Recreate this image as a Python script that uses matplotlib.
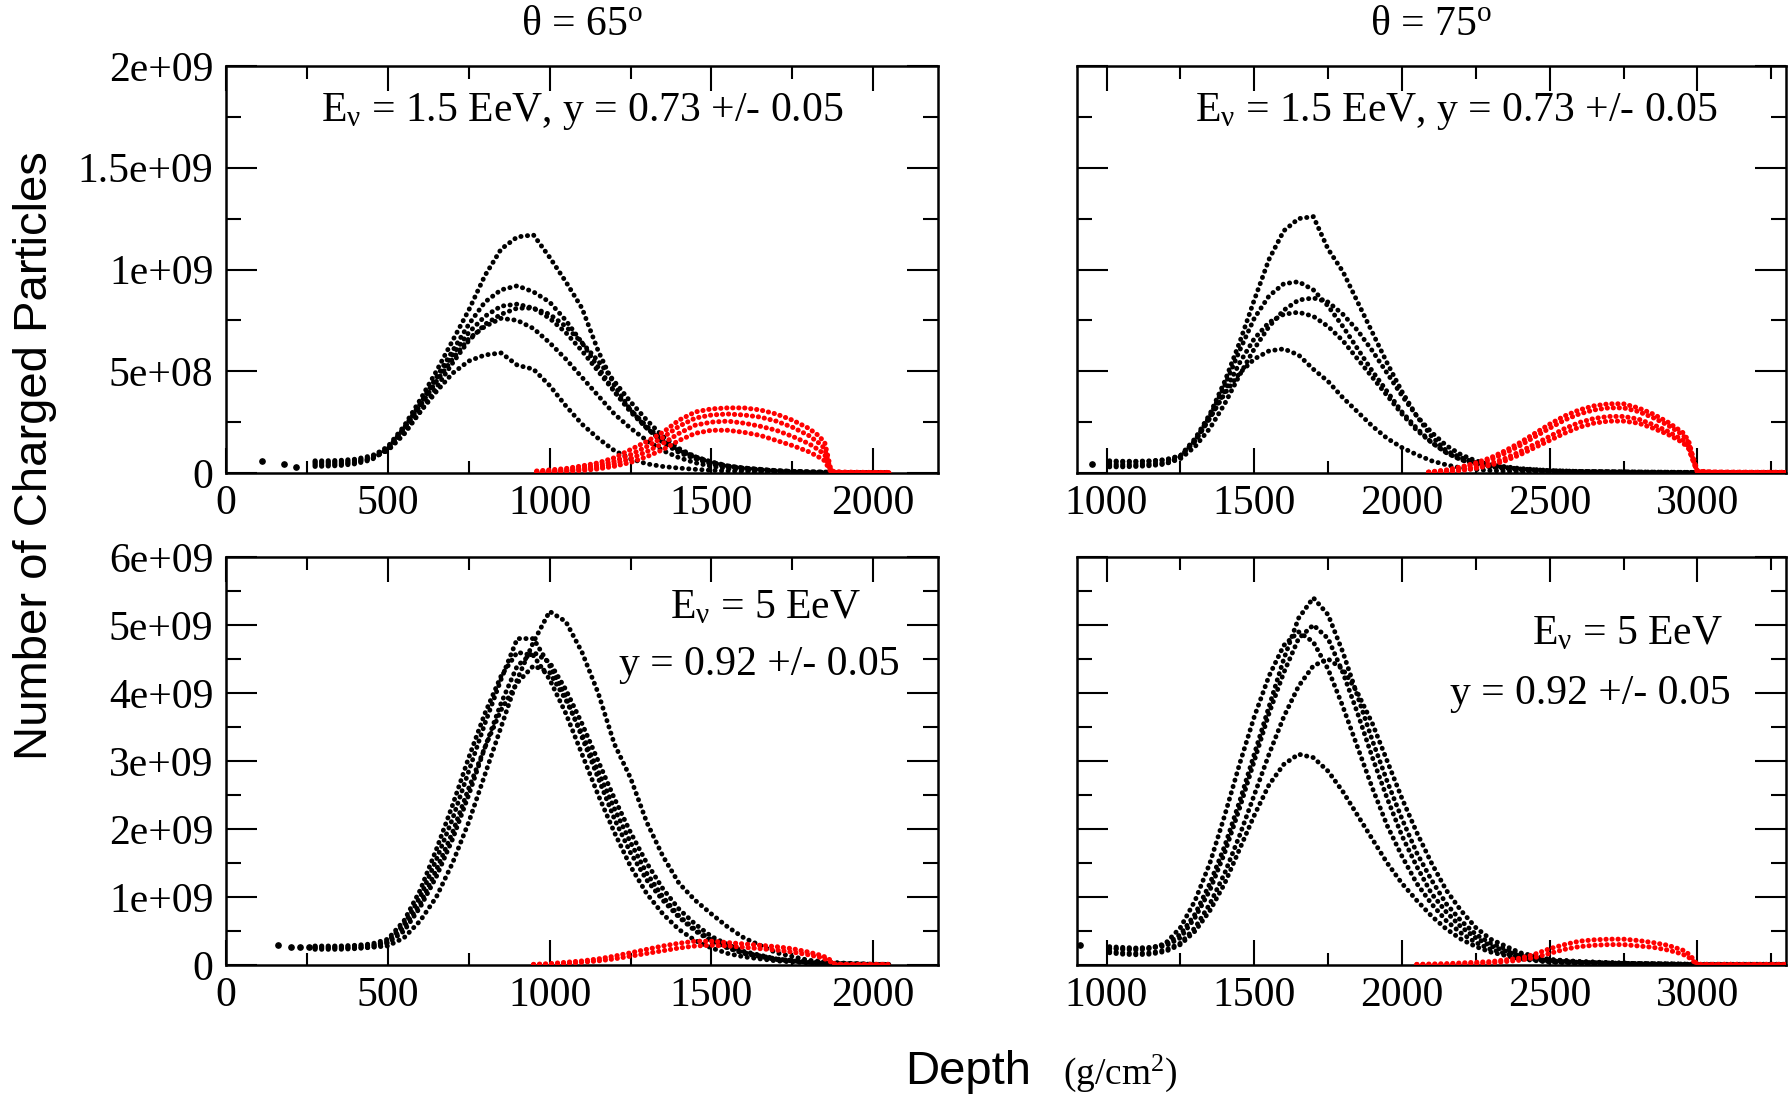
import numpy as np
import matplotlib.pyplot as plt
from matplotlib.ticker import FixedLocator, MultipleLocator

plt.rcParams['font.family'] = ['Liberation Serif', 'DejaVu Serif']
plt.rcParams['mathtext.fontset'] = 'custom'
plt.rcParams['mathtext.rm'] = 'Liberation Serif'
plt.rcParams['mathtext.it'] = 'Liberation Serif'
plt.rcParams['mathtext.default'] = 'rm'

# ---------------- data ----------------
# top row: number of particles in units of 1e8, bottom row in units of 1e9

# theta = 65, E = 1.5 EeV
tl_depth = [275, 300, 350, 400, 450, 500, 550, 600, 650, 700, 750, 800, 850, 900, 950,
            1000, 1050, 1100, 1150, 1200, 1250, 1300, 1350, 1400, 1450, 1500, 1550, 1600,
            1700, 1800, 1900, 2000, 2050]
tl_black = [
    [0.55, 0.55, 0.57, 0.63, 0.8, 1.3, 2.3, 3.6, 5.0, 6.5, 8.0, 9.7, 11.0, 11.6, 11.7, 10.6,
     9.4, 8.1, 6.0, 4.3, 3.1, 2.2, 1.55, 1.1, 0.8, 0.55, 0.35, 0.25, 0.12, 0.06, 0.03, 0.02, 0.01],
    [0.32, 0.33, 0.36, 0.45, 0.65, 1.2, 2.2, 3.4, 4.7, 6.0, 7.3, 8.4, 9.0, 9.2, 8.9, 8.4,
     7.5, 6.4, 5.2, 4.0, 3.0, 2.2, 1.5, 1.0, 0.7, 0.45, 0.3, 0.2, 0.1, 0.05, 0.03, 0.02, 0.01],
    [0.44, 0.44, 0.46, 0.53, 0.72, 1.15, 2.1, 3.3, 4.6, 5.8, 6.9, 7.7, 8.2, 8.3, 8.1, 7.6,
     6.9, 6.0, 5.0, 4.0, 3.1, 2.3, 1.6, 1.1, 0.75, 0.5, 0.33, 0.22, 0.1, 0.05, 0.03, 0.02, 0.01],
    [0.6, 0.6, 0.62, 0.68, 0.85, 1.2, 2.2, 3.3, 4.5, 5.6, 6.6, 7.2, 7.6, 7.5, 7.1, 6.4,
     5.6, 4.7, 3.8, 2.9, 2.2, 1.6, 1.1, 0.75, 0.5, 0.33, 0.22, 0.15, 0.07, 0.04, 0.02, 0.01, 0.01],
    [0.38, 0.38, 0.41, 0.5, 0.7, 1.15, 2.0, 3.0, 4.0, 4.9, 5.5, 5.8, 5.9, 5.3, 5.1, 4.3,
     3.3, 2.4, 1.7, 1.1, 0.7, 0.45, 0.32, 0.24, 0.18, 0.13, 0.1, 0.08, 0.05, 0.03, 0.02, 0.01, 0.01],
    [0.5, 0.5, 0.52, 0.58, 0.75, 1.1, 1.9, 3.0, 4.2, 5.4, 6.5, 7.3, 7.8, 8.1, 8.1, 7.8,
     7.2, 6.4, 5.5, 4.5, 3.5, 2.6, 1.8, 1.2, 0.8, 0.52, 0.35, 0.24, 0.11, 0.05, 0.03, 0.02, 0.01],
]
tl_early_depth = [110, 180, 215]
tl_early_n = [0.6, 0.45, 0.3]
tl_red_depth = [960, 1000, 1050, 1100, 1150, 1200, 1250, 1300, 1350, 1400, 1450, 1500, 1550,
                1600, 1650, 1700, 1750, 1800, 1830, 1850, 1860, 1870, 1900, 1950, 2000, 2050]
tl_red = [
    [0.1, 0.15, 0.22, 0.35, 0.5, 0.75, 1.15, 1.55, 2.0, 2.6, 3.0, 3.15, 3.2, 3.2, 3.1, 2.9,
     2.6, 2.2, 1.85, 1.5, 0.8, 0.1, 0.05, 0.04, 0.03, 0.03],
    [0.06, 0.1, 0.15, 0.25, 0.38, 0.58, 0.9, 1.3, 1.75, 2.3, 2.7, 2.85, 2.9, 2.85, 2.75, 2.55,
     2.25, 1.85, 1.5, 1.2, 0.6, 0.06, 0.03, 0.03, 0.02, 0.02],
    [0.04, 0.07, 0.11, 0.18, 0.28, 0.45, 0.7, 1.05, 1.45, 1.95, 2.35, 2.5, 2.55, 2.45, 2.3, 2.1,
     1.8, 1.45, 1.15, 0.9, 0.45, 0.04, 0.02, 0.02, 0.02, 0.02],
    [0.02, 0.04, 0.07, 0.12, 0.2, 0.33, 0.52, 0.8, 1.15, 1.6, 1.95, 2.1, 2.1, 2.0, 1.85, 1.6,
     1.35, 1.05, 0.8, 0.6, 0.3, 0.02, 0.01, 0.01, 0.01, 0.01],
]

# theta = 75, E = 1.5 EeV
tr_depth = [1010, 1050, 1100, 1150, 1200, 1250, 1300, 1350, 1400, 1450, 1500, 1550, 1600, 1650,
            1700, 1750, 1800, 1850, 1900, 1950, 2000, 2050, 2100, 2150, 2200, 2250, 2300,
            2400, 2500, 2600, 2800, 3000, 3200, 3300]
tr_black = [
    [0.6, 0.58, 0.58, 0.6, 0.66, 0.85, 1.7, 2.9, 4.5, 6.4, 8.5, 10.5, 11.9, 12.5, 12.6, 11.0,
     9.9, 8.4, 6.9, 5.4, 4.0, 2.8, 1.8, 1.1, 0.75, 0.5, 0.35, 0.2, 0.12, 0.08, 0.05, 0.03, 0.02, 0.02],
    [0.3, 0.3, 0.32, 0.36, 0.44, 0.8, 1.6, 2.8, 4.3, 6.0, 7.6, 8.7, 9.3, 9.4, 9.0, 8.2,
     7.2, 6.1, 5.0, 4.0, 3.0, 2.2, 1.5, 1.0, 0.65, 0.45, 0.3, 0.17, 0.1, 0.07, 0.04, 0.03, 0.02, 0.02],
    [0.44, 0.43, 0.44, 0.47, 0.53, 0.8, 1.55, 2.7, 4.0, 5.4, 6.6, 7.4, 7.8, 7.9, 7.7, 7.2,
     6.5, 5.6, 4.7, 3.8, 2.9, 2.1, 1.5, 1.0, 0.65, 0.43, 0.29, 0.16, 0.09, 0.06, 0.04, 0.03, 0.02, 0.02],
    [0.55, 0.54, 0.55, 0.58, 0.64, 0.85, 1.6, 2.7, 3.9, 4.9, 5.6, 6.0, 6.1, 5.8, 5.1, 4.5,
     3.7, 3.0, 2.3, 1.7, 1.25, 0.9, 0.6, 0.4, 0.25, 0.17, 0.12, 0.07, 0.05, 0.04, 0.03, 0.02, 0.02, 0.01],
    [0.36, 0.35, 0.36, 0.4, 0.46, 0.7, 1.3, 2.2, 3.4, 4.8, 6.1, 7.2, 8.0, 8.5, 8.6, 8.4,
     7.8, 7.0, 6.0, 4.9, 3.8, 2.8, 2.0, 1.35, 0.9, 0.6, 0.4, 0.22, 0.12, 0.08, 0.05, 0.03, 0.02, 0.02],
]
tr_early_depth = [950]
tr_early_n = [0.45]
tr_red_depth = [2090, 2150, 2200, 2250, 2300, 2350, 2400, 2450, 2500, 2550, 2600, 2650, 2700,
                2750, 2800, 2850, 2900, 2950, 2970, 2985, 3000, 3050, 3100, 3200, 3300]
tr_red = [
    [0.05, 0.15, 0.3, 0.5, 0.75, 1.1, 1.5, 1.95, 2.4, 2.8, 3.1, 3.3, 3.4, 3.4, 3.2, 2.9,
     2.5, 2.0, 1.6, 0.8, 0.1, 0.05, 0.05, 0.04, 0.04],
    [0.04, 0.12, 0.25, 0.42, 0.65, 0.98, 1.35, 1.78, 2.2, 2.6, 2.9, 3.1, 3.2, 3.2, 3.02, 2.72,
     2.35, 1.88, 1.5, 0.75, 0.08, 0.05, 0.04, 0.035, 0.035],
    [0.025, 0.08, 0.16, 0.28, 0.46, 0.72, 1.05, 1.42, 1.8, 2.18, 2.48, 2.68, 2.78, 2.78, 2.65,
     2.38, 2.05, 1.62, 1.3, 0.65, 0.05, 0.035, 0.025, 0.025, 0.025],
    [0.02, 0.05, 0.12, 0.22, 0.38, 0.6, 0.9, 1.25, 1.6, 1.95, 2.25, 2.45, 2.55, 2.55, 2.45, 2.2,
     1.9, 1.5, 1.2, 0.6, 0.04, 0.03, 0.02, 0.02, 0.02],
]

# theta = 65, E = 5 EeV
bl_depth = tl_depth
bl_black = [
    [0.25, 0.25, 0.25, 0.26, 0.28, 0.35, 0.6, 1.0, 1.55, 2.15, 2.85, 3.55, 4.2, 4.8, 4.8, 4.4,
     3.95, 3.35, 2.75, 2.15, 1.65, 1.25, 0.95, 0.7, 0.5, 0.35, 0.25, 0.17, 0.08, 0.04, 0.02, 0.01, 0.01],
    [0.27, 0.27, 0.27, 0.28, 0.29, 0.33, 0.55, 0.9, 1.4, 1.95, 2.6, 3.2, 3.75, 4.15, 4.4, 4.3,
     3.9, 3.4, 2.85, 2.3, 1.8, 1.35, 1.0, 0.72, 0.52, 0.37, 0.26, 0.18, 0.09, 0.04, 0.02, 0.01, 0.01],
    [0.23, 0.23, 0.23, 0.24, 0.26, 0.32, 0.5, 0.85, 1.3, 1.85, 2.5, 3.2, 3.85, 4.4, 4.6, 4.45,
     4.05, 3.55, 3.0, 2.45, 1.95, 1.5, 1.12, 0.82, 0.6, 0.42, 0.3, 0.2, 0.09, 0.04, 0.02, 0.01, 0.01],
    [0.25, 0.25, 0.25, 0.25, 0.26, 0.28, 0.4, 0.65, 1.0, 1.5, 2.1, 2.8, 3.5, 4.2, 4.75, 5.2,
     5.05, 4.6, 4.0, 3.25, 2.75, 2.1, 1.6, 1.2, 0.95, 0.75, 0.56, 0.4, 0.18, 0.07, 0.03, 0.01, 0.01],
    [0.28, 0.28, 0.28, 0.29, 0.31, 0.38, 0.65, 1.1, 1.7, 2.35, 3.05, 3.7, 4.25, 4.6, 4.55, 4.2,
     3.7, 3.1, 2.5, 1.95, 1.45, 1.05, 0.75, 0.52, 0.36, 0.25, 0.17, 0.12, 0.06, 0.03, 0.02, 0.01, 0.01],
]
bl_early_depth = [160, 200, 230, 255]
bl_early_n = [0.29, 0.27, 0.26, 0.27]
bl_red_depth = [950, 1000, 1050, 1100, 1150, 1200, 1250, 1300, 1350, 1400, 1450, 1500, 1550,
                1600, 1650, 1700, 1750, 1800, 1840, 1860, 1880, 1900, 1950, 2000, 2050]
bl_red = [
    [0.01, 0.02, 0.04, 0.06, 0.09, 0.13, 0.18, 0.23, 0.28, 0.32, 0.35, 0.35, 0.33, 0.31, 0.29,
     0.27, 0.24, 0.19, 0.14, 0.1, 0.02, 0.01, 0.01, 0.01, 0.01],
    [0.005, 0.01, 0.02, 0.04, 0.06, 0.09, 0.13, 0.17, 0.21, 0.25, 0.28, 0.29, 0.28, 0.26, 0.24,
     0.22, 0.19, 0.15, 0.11, 0.07, 0.01, 0.005, 0.005, 0.005, 0.005],
]

# theta = 75, E = 5 EeV
br_depth = tr_depth
br_black = [
    [0.27, 0.26, 0.25, 0.26, 0.3, 0.45, 0.75, 1.2, 1.75, 2.4, 3.1, 3.8, 4.5, 5.1, 5.4, 5.15,
     4.6, 3.95, 3.3, 2.7, 2.15, 1.65, 1.25, 0.9, 0.65, 0.45, 0.32, 0.16, 0.08, 0.05, 0.02, 0.01, 0.01, 0.01],
    [0.24, 0.23, 0.22, 0.24, 0.32, 0.55, 0.95, 1.5, 2.2, 2.95, 3.65, 4.25, 4.7, 4.9, 4.75, 4.35,
     3.8, 3.2, 2.6, 2.05, 1.6, 1.2, 0.9, 0.65, 0.47, 0.33, 0.23, 0.11, 0.05, 0.03, 0.02, 0.01, 0.01, 0.01],
    [0.2, 0.18, 0.17, 0.18, 0.22, 0.32, 0.55, 0.9, 1.35, 1.9, 2.5, 3.1, 3.65, 4.1, 4.4, 4.5,
     4.35, 4.0, 3.55, 3.0, 2.45, 1.95, 1.5, 1.1, 0.8, 0.55, 0.38, 0.18, 0.08, 0.05, 0.02, 0.01, 0.01, 0.01],
    [0.18, 0.16, 0.15, 0.16, 0.2, 0.3, 0.5, 0.8, 1.2, 1.7, 2.2, 2.65, 2.95, 3.1, 3.05, 2.85,
     2.55, 2.2, 1.85, 1.5, 1.2, 0.95, 0.72, 0.53, 0.38, 0.27, 0.19, 0.09, 0.04, 0.03, 0.02, 0.01, 0.01, 0.01],
    [0.25, 0.24, 0.24, 0.25, 0.28, 0.4, 0.7, 1.1, 1.65, 2.3, 3.0, 3.7, 4.3, 4.8, 5.0, 4.8,
     4.3, 3.7, 3.05, 2.45, 1.9, 1.45, 1.05, 0.78, 0.56, 0.4, 0.28, 0.13, 0.06, 0.04, 0.02, 0.01, 0.01, 0.01],
]
br_early_depth = [911]
br_early_n = [0.29]
br_red_depth = [2050, 2150, 2200, 2300, 2400, 2450, 2500, 2550, 2600, 2650, 2700, 2750, 2800,
                2850, 2900, 2950, 2975, 2990, 3000, 3050, 3100, 3200, 3300]
br_red = [
    [0.01, 0.02, 0.03, 0.05, 0.1, 0.16, 0.24, 0.3, 0.35, 0.37, 0.38, 0.38, 0.36, 0.33, 0.29,
     0.22, 0.15, 0.06, 0.01, 0.01, 0.01, 0.01, 0.01],
    [0.005, 0.01, 0.015, 0.03, 0.07, 0.11, 0.17, 0.23, 0.27, 0.29, 0.3, 0.3, 0.28, 0.26, 0.22,
     0.16, 0.1, 0.04, 0.005, 0.005, 0.005, 0.005, 0.005],
]

top_yticks = [0, 5e8, 1e9, 1.5e9, 2e9]
top_ylabels = ['0', '5e+08', '1e+09', '1.5e+09', '2e+09']
bot_yticks = [0, 1e9, 2e9, 3e9, 4e9, 5e9, 6e9]
bot_ylabels = ['0', '1e+09', '2e+09', '3e+09', '4e+09', '5e+09', '6e+09']
left_xticks = [0, 500, 1000, 1500, 2000]
right_xticks = [1000, 1500, 2000, 2500, 3000]

# ---------------- figure ----------------
fig = plt.figure(figsize=(17.89, 10.97), dpi=100)

W, H = 1789.0, 1097.0
def px_axes(x0, x1, ytop, ybot):
    return fig.add_axes([x0 / W, 1 - ybot / H, (x1 - x0) / W, (ybot - ytop) / H])

ax_tl = px_axes(226, 938, 66, 473)
ax_tr = px_axes(1077, 1786, 66, 473)
ax_bl = px_axes(226, 938, 557, 965)
ax_br = px_axes(1077, 1786, 557, 965)

TICK_FS = 30

def dotted(ax, x, y, scale, color, lw=3.5, gap=1.3):
    ax.plot(x, np.array(y) * scale, color=color, lw=lw,
            ls=(0, (0.05, gap)), dash_capstyle='round', zorder=3)

def style(ax, xlim, xticks, ylim, yticks, ylabels, ymin_step, show_ylabels):
    ax.set_xlim(*xlim)
    ax.set_ylim(*ylim)
    ax.xaxis.set_major_locator(FixedLocator(xticks))
    ax.xaxis.set_minor_locator(MultipleLocator(250))
    ax.set_xticklabels([str(t) for t in xticks])
    ax.yaxis.set_major_locator(FixedLocator(yticks))
    ax.yaxis.set_minor_locator(MultipleLocator(ymin_step))
    if show_ylabels:
        ax.set_yticklabels(ylabels)
    else:
        ax.set_yticklabels([])
    ax.tick_params(axis='both', which='both', direction='in', top=True, right=True,
                   width=1.5, labelsize=TICK_FS)
    ax.tick_params(axis='x', which='major', length=18, pad=8)
    ax.tick_params(axis='x', which='minor', length=9)
    ax.tick_params(axis='y', which='major', length=22, pad=9)
    ax.tick_params(axis='y', which='minor', length=11)
    for s in ax.spines.values():
        s.set_linewidth(1.8)

panels = [
    (ax_tl, tl_depth, tl_black, tl_red_depth, tl_red, tl_early_depth, tl_early_n, 1e8),
    (ax_tr, tr_depth, tr_black, tr_red_depth, tr_red, tr_early_depth, tr_early_n, 1e8),
    (ax_bl, bl_depth, bl_black, bl_red_depth, bl_red, bl_early_depth, bl_early_n, 1e9),
    (ax_br, br_depth, br_black, br_red_depth, br_red, br_early_depth, br_early_n, 1e9),
]
for ax, d, blacks, rd, reds, ed, en, sc in panels:
    for n in blacks:
        dotted(ax, d, n, sc, 'black')
    for n in reds:
        dotted(ax, rd, n, sc, '#ff0000', lw=3.6, gap=1.15)
    ax.plot(ed, np.array(en) * sc, 'o', color='black', ms=3.8, zorder=3)

style(ax_tl, (0, 2200), left_xticks, (0, 2e9), top_yticks, top_ylabels, 2.5e8, True)
style(ax_tr, (900, 3300), right_xticks, (0, 2e9), top_yticks, top_ylabels, 2.5e8, False)
style(ax_bl, (0, 2200), left_xticks, (0, 6e9), bot_yticks, bot_ylabels, 5e8, True)
style(ax_br, (900, 3300), right_xticks, (0, 6e9), bot_yticks, bot_ylabels, 5e8, False)

# annotations
ann_fs = 30
ax_tl.text(0.5, 0.889, r'E$_{\nu}$ = 1.5 EeV, y = 0.73 +/- 0.05', transform=ax_tl.transAxes,
           ha='center', va='center', fontsize=ann_fs)
ax_tr.text(0.535, 0.889, r'E$_{\nu}$ = 1.5 EeV, y = 0.73 +/- 0.05', transform=ax_tr.transAxes,
           ha='center', va='center', fontsize=ann_fs)
ax_bl.text(0.758, 0.875, r'E$_{\nu}$ = 5 EeV', transform=ax_bl.transAxes,
           ha='center', va='center', fontsize=ann_fs)
ax_bl.text(0.749, 0.735, 'y = 0.92 +/- 0.05', transform=ax_bl.transAxes,
           ha='center', va='center', fontsize=ann_fs)
ax_br.text(0.776, 0.811, r'E$_{\nu}$ = 5 EeV', transform=ax_br.transAxes,
           ha='center', va='center', fontsize=ann_fs)
ax_br.text(0.724, 0.666, 'y = 0.92 +/- 0.05', transform=ax_br.transAxes,
           ha='center', va='center', fontsize=ann_fs)

# column titles
fig.text(582 / W, 1 - 25 / H, r'θ = 65$^{\mathrm{o}}$', ha='center', va='center', fontsize=30)
fig.text(1431 / W, 1 - 25 / H, r'θ = 75$^{\mathrm{o}}$', ha='center', va='center', fontsize=30)

# axis titles
fig.text(35 / W, 1 - 456 / H, 'Number of Charged Particles', rotation=90,
         ha='center', va='center', fontsize=34, family=['Liberation Sans', 'DejaVu Sans'])
fig.text(905 / W, 1 - 1084 / H, 'Depth', ha='left', va='baseline',
         fontsize=34, family=['Liberation Sans', 'DejaVu Sans'])
fig.text(1063 / W, 1 - 1084 / H, r'(g/cm$^{2}$)', ha='left', va='baseline', fontsize=27)

fig.savefig('out.png', dpi=100)
